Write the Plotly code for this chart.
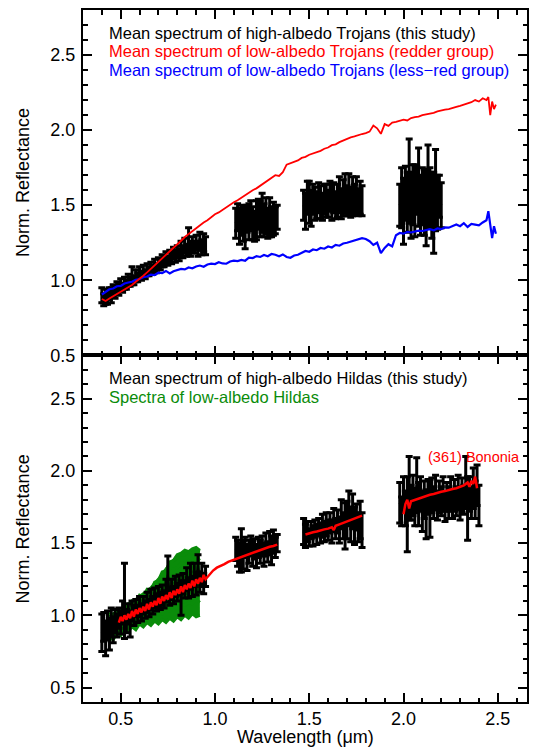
import plotly.graph_objects as go

# ---------------- DATA ----------------
# shared wavelength grids (micron)
vis_wl = [0.40,0.41,0.42,0.43,0.44,0.45,0.46,0.47,0.48,0.49,0.50,0.51,0.52,0.53,0.54,0.55,0.56,0.57,0.58,0.59,
          0.60,0.61,0.62,0.63,0.64,0.65,0.66,0.67,0.68,0.69,0.70,0.71,0.72,0.73,0.74,0.75,0.76,0.77,0.78,0.79,
          0.80,0.81,0.82,0.83,0.84,0.85,0.86,0.87,0.88,0.89,0.90,0.91,0.92,0.93,0.94,0.95]
j_wl = [1.11,1.12,1.13,1.14,1.15,1.16,1.17,1.18,1.19,1.20,1.21,1.22,1.23,1.24,1.25,1.26,1.27,1.28,1.29,1.30,1.31,1.32,1.33]
h_wl = [1.47,1.48,1.49,1.50,1.51,1.52,1.53,1.54,1.55,1.56,1.57,1.58,1.59,1.60,1.61,1.62,1.63,1.64,1.65,1.66,
        1.67,1.68,1.69,1.70,1.71,1.72,1.73,1.74,1.75,1.76,1.77,1.78]
troj_k_wl = [1.98,1.99,2.00,2.01,2.02,2.03,2.04,2.05,2.06,2.07,2.08,2.09,2.10,2.11,2.12,2.13,2.14,2.15,2.16,2.17,2.18,2.19,2.20]
hilda_k_wl = [1.98,1.99,2.00,2.01,2.02,2.03,2.04,2.05,2.06,2.07,2.08,2.09,2.10,2.11,2.12,2.13,2.14,2.15,2.16,2.17,
              2.18,2.19,2.20,2.21,2.22,2.23,2.24,2.25,2.26,2.27,2.28,2.29,2.30,2.31,2.32,2.33,2.34,2.35,2.36,2.37,
              2.38,2.39,2.40]

# --- top panel: high-albedo Trojans (black, with error bars)
troj_vis_refl = [0.90,0.87,0.89,0.88,0.91,0.90,0.93,0.92,0.95,0.94, 0.97,0.95,0.98,0.97,1.00,0.99,1.03,1.00,1.03,1.02,
                 1.05,1.03,1.06,1.04,1.07,1.06,1.08,1.07,1.10,1.08, 1.11,1.10,1.13,1.12,1.15,1.13,1.16,1.15,1.18,1.16,
                 1.19,1.17,1.21,1.19,1.23,1.20,1.26,1.21,1.24,1.22, 1.25,1.21,1.26,1.22,1.25,1.23]
troj_vis_err = [0.05,0.04,0.05,0.04,0.04,0.05,0.04,0.04,0.04,0.04, 0.04,0.03,0.04,0.03,0.04,0.03,0.06,0.03,0.04,0.03,
                0.04,0.03,0.04,0.03,0.04,0.03,0.04,0.03,0.04,0.03, 0.04,0.03,0.04,0.03,0.04,0.03,0.04,0.04,0.04,0.04,
                0.04,0.04,0.05,0.04,0.05,0.04,0.09,0.05,0.05,0.04, 0.05,0.05,0.06,0.05,0.06,0.06]
troj_j_refl = [1.38,1.42,1.36,1.40,1.37,1.35,1.41,1.39,1.43,1.38,1.36,1.40,1.44,1.41,1.45,1.40,1.43,1.38,1.42,1.39,1.41,1.40,1.42]
troj_j_err = [0.10,0.09,0.12,0.10,0.11,0.14,0.09,0.12,0.10,0.11,0.10,0.13,0.10,0.12,0.13,0.11,0.12,0.10,0.13,0.10,0.11,0.09,0.08]
troj_h_refl = [1.50,1.46,1.55,1.52,1.48,1.54,1.51,1.50,1.55,1.52, 1.49,1.54,1.53,1.51,1.56,1.52,1.55,1.50,1.53,1.57,
               1.51,1.55,1.58,1.53,1.57,1.52,1.56,1.54,1.57,1.52, 1.55,1.53]
troj_h_err = [0.10,0.12,0.11,0.14,0.12,0.10,0.11,0.09,0.10,0.11, 0.09,0.10,0.11,0.09,0.10,0.12,0.10,0.09,0.11,0.12,
              0.10,0.12,0.13,0.10,0.14,0.10,0.13,0.10,0.12,0.09, 0.11,0.10]
troj_k_refl = [1.50,1.55,1.46,1.58,1.52,1.66,1.50,1.57,1.53,1.60,1.62,1.50,1.56,1.52,1.48,1.63,1.55,1.50,1.45,1.60,1.52,1.56,1.50]
troj_k_err = [0.14,0.20,0.22,0.18,0.20,0.28,0.22,0.20,0.24,0.16,0.26,0.20,0.19,0.22,0.25,0.27,0.20,0.22,0.27,0.27,0.18,0.14,0.15]

# --- top panel: mean low-albedo Trojan spectra (red: redder group, blue: less-red group)
troj_mean_wl = [0.40,0.42,0.44,0.46,0.48,0.50,0.52,0.54,0.56,0.58,0.60,0.62,0.64,0.66,0.68,0.70,0.72,0.74,0.76,0.78,
                0.80,0.82,0.84,0.86,0.88,0.90,0.92,0.94,0.96,0.98,1.00,1.02,1.04,1.06,1.08,1.10,1.12,1.14,1.16,1.18,
                1.20,1.22,1.24,1.26,1.28,1.30,1.32,1.34,1.36,1.38,1.40,1.42,1.44,1.46,1.48,1.50,1.52,1.54,1.56,1.58,
                1.60,1.62,1.64,1.66,1.68,1.70,1.72,1.74,1.76,1.78,1.80,1.82,1.84,1.86,1.88,1.90,1.92,1.94,1.96,1.98,
                2.00,2.02,2.04,2.06,2.08,2.10,2.12,2.14,2.16,2.18,2.20,2.22,2.24,2.26,2.28,2.30,2.32,2.34,2.36,2.38,
                2.40,2.42,2.44,2.45,2.46,2.47,2.48,2.49]
troj_red_refl = [0.875,0.862,0.878,0.893,0.905,0.922,0.938,0.952,0.968,0.990,1.008,1.030,1.052,1.075,1.098,1.120,1.143,1.168,1.190,1.215,
                 1.240,1.263,1.288,1.308,1.330,1.348,1.366,1.384,1.400,1.420,1.440,1.452,1.470,1.488,1.503,1.520,1.533,1.550,1.568,1.582,
                 1.600,1.612,1.630,1.645,1.660,1.680,1.700,1.695,1.720,1.770,1.778,1.790,1.798,1.815,1.822,1.836,1.843,1.855,1.862,1.876,
                 1.884,1.900,1.905,1.920,1.932,1.940,1.952,1.958,1.968,1.974,1.980,1.990,2.030,2.012,1.975,2.040,2.028,2.050,2.055,2.062,
                 2.070,2.064,2.080,2.086,2.090,2.100,2.104,2.112,2.115,2.125,2.128,2.136,2.140,2.150,2.155,2.162,2.170,2.176,2.186,2.200,
                 2.190,2.212,2.200,2.220,2.100,2.190,2.140,2.170]
troj_blue_refl = [0.905,0.925,0.940,0.945,0.960,0.962,0.978,0.985,0.990,1.003,1.008,1.020,1.025,1.038,1.035,1.050,1.048,1.062,1.045,1.060,
                  1.068,1.075,1.072,1.085,1.080,1.092,1.098,1.090,1.105,1.110,1.108,1.120,1.112,1.110,1.125,1.130,1.128,1.135,1.130,1.150,
                  1.148,1.160,1.155,1.168,1.160,1.175,1.170,1.160,1.172,1.155,1.150,1.165,1.170,1.185,1.195,1.190,1.205,1.200,1.215,1.210,
                  1.225,1.218,1.235,1.230,1.245,1.250,1.258,1.262,1.270,1.280,1.275,1.260,1.235,1.250,1.180,1.215,1.240,1.225,1.300,1.315,
                  1.310,1.322,1.318,1.325,1.330,1.328,1.335,1.340,1.332,1.345,1.340,1.352,1.350,1.360,1.372,1.360,1.380,1.355,1.375,1.370,
                  1.365,1.385,1.400,1.460,1.360,1.280,1.360,1.310]

# --- bottom panel: high-albedo Hildas (black, with error bars)
hilda_vis_refl = [0.88,0.92,0.84,0.93,0.87,0.95,0.90,0.96,0.93,0.98, 0.95,1.02,1.10,0.96,1.01,0.94,1.03,1.00,1.05,1.01,
                  1.06,1.02,1.07,1.04,1.09,1.05,1.11,1.07,1.12,1.09, 1.13,1.10,1.14,1.11,1.17,1.28,1.13,1.18,1.14,1.20,
                  1.16,1.21,1.12,1.22,1.18,1.25,1.19,1.27,1.20,1.28, 1.22,1.34,1.23,1.28,1.22,1.27]
hilda_vis_err = [0.13,0.10,0.12,0.10,0.11,0.10,0.09,0.08,0.08,0.07, 0.08,0.08,0.26,0.08,0.07,0.09,0.07,0.07,0.06,0.06,
                 0.07,0.06,0.06,0.06,0.07,0.06,0.07,0.06,0.07,0.06, 0.07,0.06,0.07,0.06,0.08,0.13,0.06,0.07,0.06,0.07,
                 0.06,0.07,0.12,0.07,0.06,0.08,0.07,0.09,0.07,0.08, 0.08,0.08,0.07,0.08,0.07,0.07]
hilda_j_refl = [1.46,1.43,1.40,1.45,1.42,1.47,1.40,1.44,1.48,1.43,1.46,1.41,1.47,1.44,1.48,1.42,1.49,1.44,1.50,1.45,1.51,1.47,1.50]
hilda_j_err = [0.08,0.09,0.10,0.15,0.10,0.07,0.09,0.08,0.07,0.09,0.07,0.08,0.07,0.08,0.07,0.08,0.08,0.07,0.08,0.10,0.08,0.07,0.06]
hilda_h_refl = [1.58,1.55,1.58,1.54,1.59,1.55,1.60,1.56,1.61,1.57, 1.62,1.58,1.63,1.59,1.64,1.58,1.66,1.60,1.65,1.59,
                1.70,1.62,1.62,1.66,1.74,1.63,1.72,1.62,1.68,1.61, 1.66,1.59]
hilda_h_err = [0.09,0.08,0.07,0.06,0.06,0.07,0.06,0.07,0.06,0.07, 0.08,0.07,0.08,0.07,0.07,0.08,0.08,0.07,0.08,0.09,
               0.10,0.09,0.16,0.13,0.12,0.12,0.12,0.13,0.09,0.10, 0.13,0.12]
hilda_k_refl = [1.78,1.72,1.84,1.74,1.70,1.88,1.78,1.83,1.75,1.90, 1.77,1.84,1.72,1.80,1.70,1.82,1.74,1.83,1.78,1.85,
                1.76,1.82,1.79,1.84,1.75,1.82,1.78,1.84,1.77,1.83, 1.79,1.85,1.77,1.83,1.80,1.92,1.74,1.84,1.78,1.88,
                1.80,1.90,1.76]
hilda_k_err = [0.14,0.10,0.12,0.12,0.26,0.22,0.12,0.14,0.13,0.19, 0.15,0.12,0.14,0.13,0.17,0.12,0.20,0.12,0.11,0.12,
               0.10,0.11,0.10,0.12,0.10,0.10,0.11,0.12,0.10,0.11, 0.10,0.12,0.11,0.12,0.10,0.18,0.22,0.12,0.11,0.14,
               0.13,0.14,0.14]

# --- bottom panel: spectra of low-albedo Hildas (green); s1 = lowest, s7 = highest
green_wl = [0.44,0.46,0.48,0.50,0.52,0.54,0.56,0.58,0.60,0.62,0.64,0.66,0.68,0.70,0.72,0.74,0.76,0.78,0.80,0.82,
            0.84,0.86,0.88,0.90,0.92]
green_spectra = {
    "s1": [0.85,0.83,0.88,0.86,0.90,0.89,0.92,0.90,0.94,0.92,0.95,0.93,0.96,0.94,0.97,0.95,0.98,0.96,0.99,0.97,1.00,0.98,1.01,0.99,1.00],
    "s2": [0.88,0.90,0.89,0.92,0.91,0.94,0.93,0.96,0.95,0.98,0.97,1.00,0.99,1.02,1.01,1.04,1.03,1.06,1.05,1.08,1.07,1.09,1.08,1.11,1.09],
    "s3": [0.91,0.93,0.92,0.95,0.95,0.98,0.97,1.00,1.00,1.03,1.02,1.06,1.05,1.09,1.08,1.12,1.12,1.15,1.15,1.18,1.17,1.20,1.19,1.22,1.20],
    "s4": [0.93,0.96,0.95,0.99,0.98,1.02,1.01,1.04,1.04,1.08,1.07,1.11,1.11,1.15,1.15,1.20,1.20,1.24,1.24,1.28,1.27,1.30,1.29,1.32,1.30],
    "s5": [0.96,0.98,0.99,1.01,1.02,1.04,1.05,1.07,1.09,1.11,1.12,1.15,1.17,1.20,1.22,1.26,1.28,1.32,1.33,1.36,1.36,1.38,1.37,1.40,1.38],
    "s6": [0.99,1.01,1.02,1.04,1.06,1.08,1.09,1.11,1.13,1.15,1.17,1.19,1.22,1.25,1.28,1.32,1.35,1.38,1.40,1.42,1.42,1.44,1.43,1.45,1.44],
    "s7": [1.02,1.00,1.04,1.03,1.07,1.06,1.10,1.09,1.14,1.13,1.18,1.17,1.23,1.24,1.30,1.31,1.37,1.38,1.42,1.43,1.45,1.44,1.46,1.47,1.45],
}

# --- bottom panel: (361) Bononia (red); None = gap between bands
bononia_wl = [0.49,0.50,0.51,0.52,0.53,0.54,0.55,0.56,0.57,0.58,0.59,0.60,0.61,0.62,0.63,0.64,0.65,0.66,0.67,0.68,
              0.69,0.70,0.71,0.72,0.73,0.74,0.75,0.76,0.77,0.78,0.79,0.80,0.81,0.82,0.83,0.84,0.85,0.86,0.87,0.88,
              0.89,0.90,0.91,0.92,0.93,0.94,0.95,
              0.97,0.99,1.01,1.03,1.05,1.07,1.09,1.11,1.13,1.15,1.17,1.19,1.21,1.23,1.25,1.27,1.29,1.31,1.33,1.40,
              1.48,1.50,1.52,1.54,1.56,1.58,1.60,1.62,1.63,1.64,1.66,1.68,1.70,1.72,1.74,1.76,1.78,1.90,
              2.00,2.01,2.02,2.03,2.04,2.06,2.08,2.10,2.12,2.14,2.16,2.18,2.20,2.22,2.24,2.26,2.28,2.30,2.32,2.34,
              2.35,2.36,2.37,2.38,2.39]
bononia_refl = [0.95,0.99,0.96,1.00,0.97,1.01,0.98,1.03,0.99,1.04,1.01,1.05,1.02,1.06,1.03,1.08,1.04,1.09,1.06,1.10,
                1.07,1.12,1.08,1.13,1.10,1.14,1.11,1.16,1.12,1.17,1.14,1.18,1.15,1.20,1.16,1.21,1.18,1.22,1.19,1.24,
                1.20,1.25,1.22,1.26,1.23,1.28,1.25,
                1.28,1.31,1.33,1.34,1.355,1.37,1.38,1.39,1.40,1.41,1.42,1.43,1.44,1.445,1.46,1.465,1.475,1.48,1.49,None,
                1.56,1.57,1.575,1.58,1.59,1.595,1.60,1.61,1.59,1.62,1.63,1.64,1.65,1.66,1.67,1.68,1.69,None,
                1.70,1.77,1.80,1.74,1.79,1.80,1.81,1.82,1.83,1.835,1.84,1.85,1.855,1.86,1.87,1.875,1.88,1.89,1.90,1.92,
                1.89,1.93,1.91,1.96,1.88]

for a, b in [(vis_wl, troj_vis_refl), (vis_wl, troj_vis_err), (j_wl, troj_j_refl), (j_wl, troj_j_err),
             (h_wl, troj_h_refl), (h_wl, troj_h_err), (troj_k_wl, troj_k_refl), (troj_k_wl, troj_k_err),
             (troj_mean_wl, troj_red_refl), (troj_mean_wl, troj_blue_refl),
             (vis_wl, hilda_vis_refl), (vis_wl, hilda_vis_err), (j_wl, hilda_j_refl), (j_wl, hilda_j_err),
             (h_wl, hilda_h_refl), (h_wl, hilda_h_err), (hilda_k_wl, hilda_k_refl), (hilda_k_wl, hilda_k_err),
             (bononia_wl, bononia_refl)] + [(green_wl, v) for v in green_spectra.values()]:
    assert len(a) == len(b), (len(a), len(b))

# ---------------- FIGURE ----------------
FONT = "Liberation Sans, Arial, Helvetica, sans-serif"
RED, BLUE, GREEN = "#ff0000", "#0000ff", "#0a8c0a"

fig = go.Figure()

def errspec(wl, refl, err, xa, ya, thick=3.0):
    return go.Scatter(x=wl, y=refl, mode="lines", xaxis=xa, yaxis=ya,
                      line=dict(color="black", width=2.2),
                      error_y=dict(type="data", array=err, visible=True, color="black",
                                   thickness=thick, width=3.5),
                      showlegend=False, hoverinfo="skip")

# top panel (x2/y2)
for wl, r, e in [(vis_wl, troj_vis_refl, troj_vis_err), (j_wl, troj_j_refl, troj_j_err),
                 (h_wl, troj_h_refl, troj_h_err), (troj_k_wl, troj_k_refl, troj_k_err)]:
    fig.add_trace(errspec(wl, r, e, "x2", "y2"))
fig.add_trace(go.Scatter(x=troj_mean_wl, y=troj_blue_refl, mode="lines", xaxis="x2", yaxis="y2",
                         line=dict(color=BLUE, width=2.2), showlegend=False, hoverinfo="skip"))
fig.add_trace(go.Scatter(x=troj_mean_wl, y=troj_red_refl, mode="lines", xaxis="x2", yaxis="y2",
                         line=dict(color=RED, width=1.8), showlegend=False, hoverinfo="skip"))

# bottom panel (x/y): the green spectra overlap into a filled band between the lowest and highest
names = list(green_spectra)
fig.add_trace(go.Scatter(x=green_wl, y=green_spectra[names[0]], mode="lines", xaxis="x", yaxis="y",
                         line=dict(color=GREEN, width=3), showlegend=False, hoverinfo="skip"))
fig.add_trace(go.Scatter(x=green_wl, y=green_spectra[names[-1]], mode="lines", xaxis="x", yaxis="y",
                         line=dict(color=GREEN, width=3), fill="tonexty", fillcolor=GREEN,
                         showlegend=False, hoverinfo="skip"))
for name in names[1:-1]:
    fig.add_trace(go.Scatter(x=green_wl, y=green_spectra[name], mode="lines", xaxis="x", yaxis="y",
                             line=dict(color=GREEN, width=3), showlegend=False, hoverinfo="skip"))
for wl, r, e in [(vis_wl, hilda_vis_refl, hilda_vis_err), (j_wl, hilda_j_refl, hilda_j_err),
                 (h_wl, hilda_h_refl, hilda_h_err), (hilda_k_wl, hilda_k_refl, hilda_k_err)]:
    fig.add_trace(errspec(wl, r, e, "x", "y"))
fig.add_trace(go.Scatter(x=bononia_wl, y=bononia_refl, mode="lines", xaxis="x", yaxis="y",
                         line=dict(color=RED, width=2.5), connectgaps=False,
                         showlegend=False, hoverinfo="skip"))

axis_style = dict(showline=True, linecolor="black", linewidth=2, mirror="ticks",
                  ticks="inside", ticklen=9, tickwidth=1.5, tickcolor="black",
                  showgrid=False, zeroline=False, tickformat=".1f",
                  tick0=0.5, dtick=0.5, tickfont=dict(size=18, family=FONT, color="black"),
                  minor=dict(ticks="inside", ticklen=4.5, tickwidth=1.5, tickcolor="black",
                             dtick=0.1, showgrid=False))

# the page body has an 8 px margin: the figure is sized to fill the rest of the window
SPLIT = 0.501
fig.update_layout(
    width=532, height=741,
    margin=dict(l=75, r=13, t=0, b=47),
    paper_bgcolor="white", plot_bgcolor="white",
    showlegend=False,
    font=dict(family=FONT, size=16, color="black"),
    xaxis=dict(axis_style, domain=[0, 1], range=[0.3, 2.655], anchor="y", ticklabelstandoff=-1),
    xaxis2=dict(axis_style, domain=[0, 1], range=[0.3, 2.655], anchor="y2", matches="x",
                showticklabels=False),
    yaxis=dict(axis_style, domain=[0, SPLIT], range=[0.4, 2.8], anchor="x", ticklabelstandoff=2),
    yaxis2=dict(axis_style, domain=[SPLIT, 1], range=[0.5, 2.8], anchor="x2", ticklabelstandoff=2),
)

def ptext(text, x, y, color="black", size=16.5, **kw):
    fig.add_annotation(text=text, x=x, y=y, xref="paper", yref="paper", showarrow=False,
                       font=dict(family=FONT, size=size, color=color), **kw)

LX = 0.053
ptext("Mean spectrum of high-albedo Trojans (this study)", LX, 0.9669, "black", xanchor="left", yanchor="middle")
ptext("Mean spectrum of low-albedo Trojans (redder group)", LX, 0.9402, RED, xanchor="left", yanchor="middle")
ptext("Mean spectrum of low-albedo Trojans (less\u2212red group)", LX, 0.9135, BLUE, xanchor="left", yanchor="middle")
ptext("Mean spectrum of high-albedo Hildas (this study)", LX, 0.4683, "black", xanchor="left", yanchor="middle")
ptext("Spectra of low-albedo Hildas", LX, 0.4409, GREEN, xanchor="left", yanchor="middle")

fig.add_annotation(text="(361) Bononia", x=2.375, y=2.095, xref="x", yref="y", showarrow=False,
                   font=dict(family=FONT, size=14.5, color=RED), xanchor="center", yanchor="middle")

# axis titles
ptext("Norm. Reflectance", -0.1363, 0.7507, "black", size=18, textangle=-90, xanchor="center", yanchor="middle")
ptext("Norm. Reflectance", -0.1363, 0.2501, "black", size=18, textangle=-90, xanchor="center", yanchor="middle")
ptext("Wavelength (\u03bcm)", 0.5, -0.05, "black", size=18, xanchor="center", yanchor="middle")

fig.write_html("out.html")
